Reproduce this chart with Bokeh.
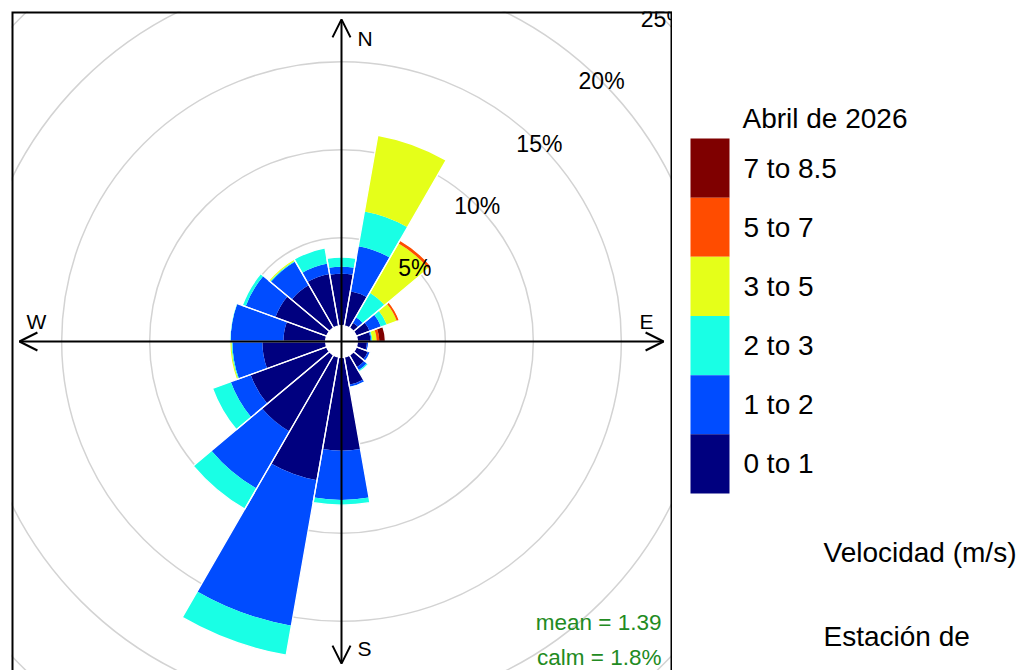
import math
from bokeh.plotting import figure
from bokeh.models import Range1d, Arrow, OpenHead, ColumnDataSource
from bokeh.layouts import row
from bokeh.embed import file_html
from bokeh.resources import INLINE
from bokeh.core.properties import value

# ---------------- data ----------------
directions = [0, 20, 40, 60, 80, 100, 120, 140, 160, 180, 200, 220, 240, 260, 280, 300, 320, 340]
band_labels = ["0 to 1", "1 to 2", "2 to 3", "3 to 5", "5 to 7", "7 to 8.5"]
band_colors = ["#00007F", "#004CFF", "#19FFE5", "#E5FF19", "#FF4C00", "#7F0000"]

# frequency (%) of each speed band per direction
freq_0_1 = [2.95, 2.0, 0.35, 0.8, 0.75, 0.55, 0.7, 0.8, 1.6, 5.3, 7.1, 5.0, 4.6, 3.6, 2.4, 3.1, 2.8, 3.0]
freq_1_2 = [0.40, 2.6, 0.35, 0.7, 0.05, 0.10, 0.15, 0.2, 0.12, 2.8, 8.4, 3.75, 1.2, 1.7, 3.0, 1.8, 1.55, 0.6]
freq_2_3 = [0.55, 2.0, 1.6, 0.35, 0.05, 0.0, 0.0, 0.1, 0.03, 0.3, 1.7, 1.35, 1.1, 0.05, 0.05, 0.2, 0.05, 0.9]
freq_3_5 = [0.0, 4.4, 3.25, 0.6, 0.25, 0.0, 0.0, 0.0, 0.0, 0.0, 0.0, 0.0, 0.0, 0.1, 0.0, 0.0, 0.1, 0.0]
freq_5_7 = [0.0, 0.0, 0.2, 0.15, 0.15, 0.0, 0.0, 0.0, 0.0, 0.0, 0.0, 0.0, 0.0, 0.0, 0.0, 0.0, 0.0, 0.0]
freq_7_85 = [0.0, 0.0, 0.0, 0.0, 0.35, 0.0, 0.0, 0.0, 0.0, 0.0, 0.0, 0.0, 0.0, 0.0, 0.0, 0.0, 0.0, 0.0]
bands = [freq_0_1, freq_1_2, freq_2_3, freq_3_5, freq_5_7, freq_7_85]

ring_levels = [5, 10, 15, 20, 25]
ring_labels = ["5%", "10%", "15%", "20%", "25%"]
compass = ["N", "E", "S", "W"]
mean_text = "mean = 1.39"
calm_text = "calm = 1.8%"
legend_title = "Abril de 2026"
legend_subtitle = "Velocidad (m/s)"
station_text = "Estación de"

FONT = "Liberation Sans"
OFFSET = 0.9        # radius of the central hole (in % units)
SECTOR = 20         # sector width in degrees

# ---------------- wind rose ----------------
X0, X1 = -18.75, 18.807
Y0, Y1 = -18.693, 18.75
p = figure(width=672, height=670, title=None,
           x_range=Range1d(X0, X1), y_range=Range1d(Y0, Y1),
           x_axis_type=None, y_axis_type=None,
           output_backend="svg", toolbar_location=None,
           min_border_left=11, min_border_top=11, min_border_right=0, min_border_bottom=0)
p.grid.visible = False
p.outline_line_color = None
p.background_fill_color = "white"
p.border_fill_color = "white"

# grid rings
p.circle(x=[0] * len(ring_levels), y=[0] * len(ring_levels),
         radius=[OFFSET + r for r in ring_levels],
         fill_color=None, line_color="#D3D3D3", line_width=1.5)

# stacked wedges
cum = [0.0] * len(directions)
for freq, col in zip(bands, band_colors):
    inner = [OFFSET + c for c in cum]
    outer = [OFFSET + c + f for c, f in zip(cum, freq)]
    start = [math.radians(90 - d - SECTOR / 2) for d in directions]
    end = [math.radians(90 - d + SECTOR / 2) for d in directions]
    src = ColumnDataSource(dict(inner=inner, outer=outer, start=start, end=end))
    p.annular_wedge(x=0, y=0, inner_radius="inner", outer_radius="outer",
                    start_angle="start", end_angle="end", source=src,
                    fill_color=col, line_color=None)
    cum = [c + f for c, f in zip(cum, freq)]

# thin white separators between sectors
sep_src = ColumnDataSource(dict(
    outer=[OFFSET + c for c in cum],
    start=[math.radians(90 - d - SECTOR / 2) for d in directions],
    end=[math.radians(90 - d + SECTOR / 2) for d in directions]))
p.annular_wedge(x=0, y=0, inner_radius=OFFSET, outer_radius="outer",
                start_angle="start", end_angle="end", source=sep_src,
                fill_color=None, line_color="white", line_width=1.3)

# axes arrows
L = 18.3
for xs, ys, xe, ye in [(0, -L, 0, L), (-L, 0, L, 0)]:
    p.add_layout(Arrow(start=OpenHead(size=18, line_width=2, line_color="black"),
                       end=OpenHead(size=18, line_width=2, line_color="black"),
                       x_start=xs, y_start=ys, x_end=xe, y_end=ye,
                       line_width=2, line_color="black"))

# compass labels
p.text(x=[0.91, 17.33, 0.91, -17.33], y=[17.2, 1.14, -17.44, 1.14], text=compass,
       text_align=["left", "center", "left", "center"], text_baseline="middle",
       text_font=value(FONT), text_font_size="21px", text_color="black")

# ring labels along 45 degrees
rl = [OFFSET + r for r in ring_levels]
p.text(x=[r * math.sin(math.radians(45)) for r in rl],
       y=[r * math.cos(math.radians(45)) for r in rl],
       text=ring_labels, text_align="center", text_baseline="middle",
       text_font=value(FONT), text_font_size="23px", text_color="black")

# mean / calm
p.text(x=[18.18, 18.18], y=[-15.97, -17.95], text=[mean_text, calm_text],
       text_align="right", text_baseline="middle",
       text_font=value(FONT), text_font_size="22.5px", text_color="#228B22")

# plot box (bottom edge lies below the visible page)
p.quad(left=[X0], right=[X1], top=[Y1], bottom=[Y0 - 2],
       fill_color=None, line_color="black", line_width=4)

# ---------------- legend ----------------
# the row aligns frames, so this frame also starts 11px from the top
lg = figure(width=360, height=670, title=None,
            x_range=Range1d(0, 360), y_range=Range1d(670, 11),
            x_axis_type=None, y_axis_type=None,
            output_backend="svg", toolbar_location=None,
            min_border_left=0, min_border_top=11, min_border_right=0, min_border_bottom=0)
lg.grid.visible = False
lg.outline_line_color = None

box_h = 59.17
box_top = 138
n = len(band_labels)
tops = [box_top + i * box_h for i in range(n)]
rev_colors = band_colors[::-1]
rev_labels = band_labels[::-1]
lg.quad(left=[18] * n, right=[57] * n, top=tops, bottom=[t + box_h for t in tops],
        fill_color=rev_colors, line_color=None)
lg.text(x=[71] * n, y=[t + box_h / 2 for t in tops], text=rev_labels,
        text_align="left", text_baseline="middle",
        text_font=value(FONT), text_font_size="28px", text_color="black")
lg.text(x=[70], y=[118], text=[legend_title], text_align="left", text_baseline="middle",
        text_font=value(FONT), text_font_size="28px", text_color="black")
lg.text(x=[151, 151], y=[552, 636], text=[legend_subtitle, station_text],
        text_align="left", text_baseline="middle",
        text_font=value(FONT), text_font_size="28px", text_color="black")

layout = row(p, lg)
open("out.html", "w").write(file_html(layout, INLINE))
